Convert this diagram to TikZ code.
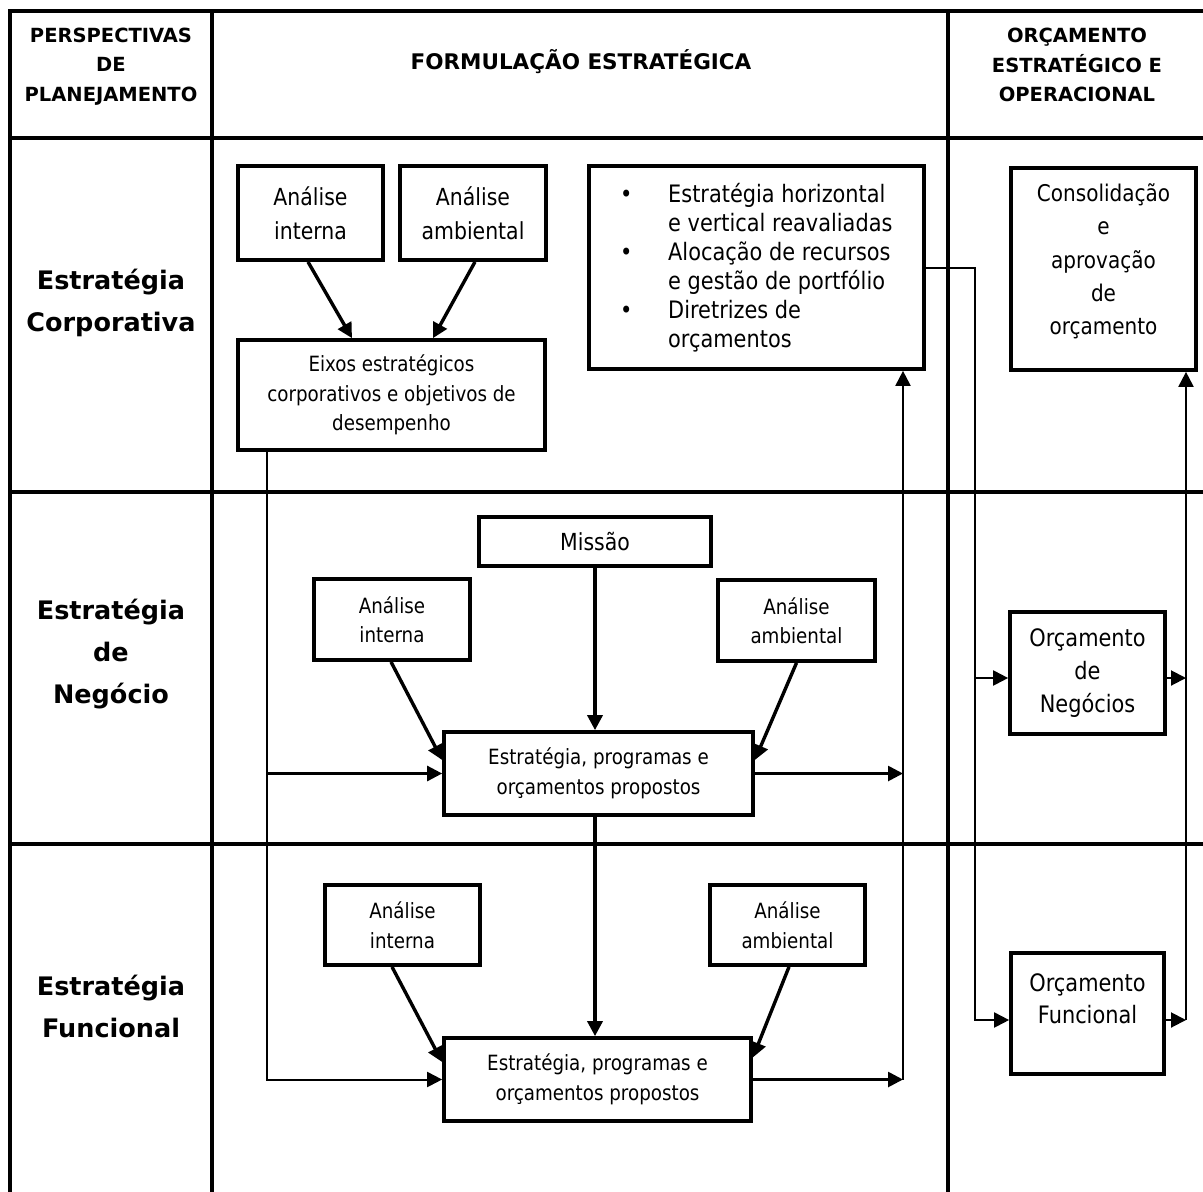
\documentclass[tikz,border=0pt]{standalone}
\usepackage{fontspec}
\setmainfont{DejaVu Sans}[FakeStretch=0.87]
\newfontfamily\bfont{DejaVu Sans}
\usetikzlibrary{arrows.meta}
\begin{document}
\begin{tikzpicture}[x=1pt,y=-1pt,
  gridline/.style={line width=4pt},
  box/.style={draw, line width=3.7pt, fill=white, inner sep=0pt, align=center},
  sm/.style={font=\fontsize{21}{29.5}\selectfont},
  lg/.style={font=\fontsize{23.5}{34}\selectfont},
  conn/.style={line width=2pt},
  midc/.style={line width=2.7pt},
  thk/.style={line width=3.4pt},
  arr/.style={-{Triangle[length=15pt,width=15pt]}},
  hd/.style={font=\bfont\bfseries\fontsize{19.5}{29.5}\selectfont, align=center, inner sep=0pt},
  rl/.style={font=\bfont\bfseries\fontsize{25.5}{42}\selectfont, align=center, inner sep=0pt},
  txt/.style={inner sep=0pt, align=center}
]
\useasboundingbox (0,0) rectangle (1203,1192);
\fill[white] (0,0) rectangle (1203,1192);

% grid
\draw[gridline] (1203,11) -- (10,11) -- (10,1192);
\draw[gridline] (212,11) -- (212,1192);
\draw[gridline] (948,11) -- (948,1192);
\draw[gridline] (10,138) -- (1203,138);
\draw[gridline] (10,492) -- (1203,492);
\draw[gridline] (10,844) -- (1203,844);

% headers
\node[hd] (h1) at (111,66.5) {PERSPECTIVAS\\DE\\PLANEJAMENTO};
\node[hd, font=\bfont\bfseries\fontsize{21.5}{29.5}\selectfont] (h2) at (581,62) {FORMULAÇÃO ESTRATÉGICA};
\node[hd] (h3) at (1077,65) {ORÇAMENTO\\ESTRATÉGICO E\\OPERACIONAL};

% row labels
\node[rl] (r1) at (111,303) {Estratégia\\Corporativa};
\node[rl] (r2) at (111,654) {Estratégia\\de\\Negócio};
\node[rl] (r3) at (111,1006) {Estratégia\\Funcional};

% row 1
\node[box, lg, minimum width=145pt, minimum height=94pt] (ai1) at (310.5,213) {Análise\\interna};
\node[box, lg, minimum width=146pt, minimum height=94pt] (ad1) at (473,213) {Análise\\ambiental};
\node[box, sm, minimum width=307pt, minimum height=110pt] (eix) at (391.5,395) {Eixos estratégicos\\corporativos e objetivos de\\desempenho};
\node[box, minimum width=335pt, minimum height=203pt] (bl) at (756.5,267.5) {};
\node[anchor=west, inner sep=0pt, font=\fontsize{24}{29}\selectfont] (blt) at (620,269.5)
  {\renewcommand\arraystretch{1}\begin{tabular}{@{}p{48pt}@{}l@{}}
   • & Estratégia horizontal\\
     & e vertical reavaliadas\\
   • & Alocação de recursos\\
     & e gestão de portfólio\\
   • & Diretrizes de\\
     & orçamentos
  \end{tabular}};
\node[box, minimum width=185pt, minimum height=202pt] (cons) at (1103.5,269) {};
\node[txt, font=\fontsize{23}{33.25}\selectfont] (const) at (1103.5,261.5) {Consolidação\\e\\aprovação\\de\\orçamento};

% row 2
\node[box, font=\fontsize{23.5}{30}\selectfont, minimum width=232pt, minimum height=49pt] (mis) at (595,541.5) {Missão};
\node[box, sm, minimum width=156pt, minimum height=81pt] (ai2) at (392,619.5) {Análise\\interna};
\node[box, sm, minimum width=157pt, minimum height=81pt] (ad2) at (796.5,620.5) {Análise\\ambiental};
\node[box, sm, minimum width=309pt, minimum height=83pt] (es2) at (598.5,773.5) {Estratégia, programas e\\orçamentos propostos};
\node[box, font=\fontsize{24}{33}\selectfont, minimum width=155pt, minimum height=122pt] (on) at (1087.5,673) {Orçamento\\de\\Negócios};

% row 3
\node[box, sm, minimum width=155pt, minimum height=80pt] (ai3) at (402.5,925) {Análise\\interna};
\node[box, sm, minimum width=155pt, minimum height=80pt] (ad3) at (787.5,925) {Análise\\ambiental};
\node[box, sm, minimum width=307pt, minimum height=83pt] (es3) at (597.5,1079.5) {Estratégia, programas e\\orçamentos propostos};
\node[box, minimum width=153pt, minimum height=121pt] (of) at (1087.5,1013.5) {};
\node[txt, font=\fontsize{24}{32}\selectfont] (oft) at (1087.5,999) {Orçamento\\Funcional};

% guide coordinates
\coordinate (lx) at (267,0);
\coordinate (rx) at (903,0);
\coordinate (bx) at (975,0);
\coordinate (cx) at (1186,0);

% row 1 connectors
\draw[thk, arr] ([xshift=-2.5pt]ai1.south) -- ([xshift=-39.5pt]eix.north);
\draw[thk, arr] ([xshift=2pt]ad1.south) -- ([xshift=41.5pt]eix.north);

% left feed line
\draw[conn, arr] (eix.south -| lx) |- (es3.west);
\draw[midc, arr] (es2.west -| lx) -- (es2.west);

% row 2 connectors
\draw[thk, arr] (mis.south) -- (mis.south |- es2.north);
\draw[thk, arr] ([xshift=-1pt]ai2.south) -- ([yshift=13.5pt]es2.west);
\draw[thk, arr] (ad2.south) -- ([yshift=13.5pt]es2.east);
\draw[thk, arr] (es2.south -| mis.south) -- (mis.south |- es3.north);

% row 3 connectors
\draw[thk, arr] ([xshift=-10.5pt]ai3.south) -- ([yshift=17.5pt]es3.west);
\draw[thk, arr] ([xshift=1.5pt]ad3.south) -- ([yshift=22pt]es3.east);

% right feed to corporate
\draw[midc, arr] (es2.east) -- (es2.east -| rx);
\draw[midc, arr] (es3.east) -- (es3.east -| rx);
\draw[conn, arr] (es3.east -| rx) -- (bl.south -| rx);

% budget distribution
\draw[conn, arr] (bl.east) -| ([yshift=-6.5pt]of.west -| bx) -- ([yshift=-6.5pt]of.west);
\draw[conn, arr] ([yshift=-5pt]on.west -| bx) -- ([yshift=-5pt]on.west);
\draw[conn, arr] ([yshift=-5pt]on.east) -- ([yshift=-5pt]on.east -| cx);
\draw[conn, arr] ([yshift=-6.5pt]of.east) -- ([yshift=-6.5pt]of.east -| cx);
\draw[conn, arr] ([yshift=-6.5pt]of.east -| cx) -- (cons.south -| cx);
\end{tikzpicture}
\end{document}
